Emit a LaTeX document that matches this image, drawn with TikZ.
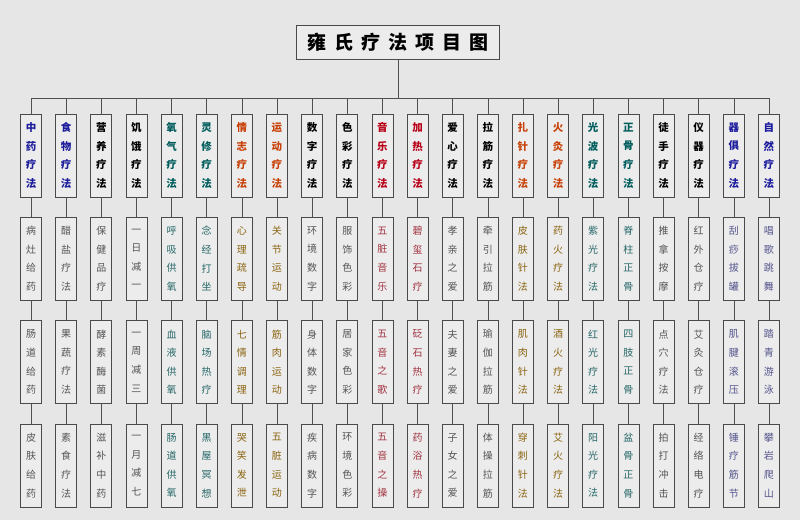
\documentclass[tikz,border=0pt]{standalone}
\usepackage{fontspec}
\usepackage{xcolor}
\usepackage{tikz}
\usetikzlibrary{positioning}

\newfontfamily\cjk{Noto Sans CJK SC}
\definecolor{bg}{HTML}{E6E6E6}
\definecolor{boxfill}{HTML}{ECECEC}
\definecolor{boxline}{HTML}{4A4A4A}
\definecolor{linec}{HTML}{505050}
\definecolor{navy}{HTML}{1C1C9C}
\definecolor{tealc}{HTML}{005C5C}
\definecolor{orng}{HTML}{C8420A}
\definecolor{redc}{HTML}{B80018}
\definecolor{itemgray}{HTML}{555555}
\definecolor{olivec}{HTML}{8A6410}
\newcommand{\vt}[4]{#1\\#2\\#3\\#4}

\begin{document}
\begin{tikzpicture}[node distance={103.3pt and 35.14pt}, on grid=true,
    box/.style = {draw=boxline, fill=boxfill, line width=0.7pt, minimum width=21pt, minimum height=83pt, inner sep=0pt, align=center},
    head/.style = {box, font=\cjk\bfseries\fontsize{10.5}{18.6}\selectfont},
    item/.style = {box, font=\cjk\fontsize{10}{18.6}\selectfont, text=itemgray},
    link/.style = {draw=linec, line width=0.6pt}]
      \fill[bg] (0,0) rectangle (800pt,520pt);

      \node[box, minimum width=203pt, minimum height=34pt, font=\cjk\bfseries\fontsize{19}{19}\selectfont] (title) at (398pt,477.7pt)
        {雍\hspace{8pt}氏\hspace{8pt}疗\hspace{8pt}法\hspace{8pt}项\hspace{8pt}目\hspace{8pt}图};
      \coordinate (bar) at (398pt,422pt);

      % therapies
      \node[head,text=navy] (t1) at (31pt,364.5pt) {\vt 中药疗法};
      \node[head,text=navy] (t2) [right=of t1] {\vt 食物疗法};
      \node[head] (t3) [right=of t2] {\vt 营养疗法};
      \node[head] (t4) [right=of t3] {\vt 饥饿疗法};
      \node[head,text=tealc] (t5) [right=of t4] {\vt 氧气疗法};
      \node[head,text=tealc] (t6) [right=of t5] {\vt 灵修疗法};
      \node[head,text=orng] (t7) [right=of t6] {\vt 情志疗法};
      \node[head,text=orng] (t8) [right=of t7] {\vt 运动疗法};
      \node[head] (t9) [right=of t8] {\vt 数字疗法};
      \node[head] (t10) [right=of t9] {\vt 色彩疗法};
      \node[head,text=redc] (t11) [right=of t10] {\vt 音乐疗法};
      \node[head,text=redc] (t12) [right=of t11] {\vt 加热疗法};
      \node[head] (t13) [right=of t12] {\vt 爱心疗法};
      \node[head] (t14) [right=of t13] {\vt 拉筋疗法};
      \node[head,text=orng] (t15) [right=of t14] {\vt 扎针疗法};
      \node[head,text=orng] (t16) [right=of t15] {\vt 火灸疗法};
      \node[head,text=tealc] (t17) [right=of t16] {\vt 光波疗法};
      \node[head,text=tealc] (t18) [right=of t17] {\vt 正骨疗法};
      \node[head] (t19) [right=of t18] {\vt 徒手疗法};
      \node[head] (t20) [right=of t19] {\vt 仪器疗法};
      \node[head,text=navy] (t21) [right=of t20] {\vt 器俱疗法};
      \node[head,text=navy] (t22) [right=of t21] {\vt 自然疗法};

      % first items
      \node[item] (a1) [below=of t1] {\vt 病灶给药};
      \node[item] (a2) [below=of t2] {\vt 醋盐疗法};
      \node[item] (a3) [below=of t3] {\vt 保健品疗};
      \node[item] (a4) [below=of t4] {\vt 一日减一};
      \node[item,text=tealc!70!gray] (a5) [below=of t5] {\vt 呼吸供氧};
      \node[item,text=tealc!70!gray] (a6) [below=of t6] {\vt 念经打坐};
      \node[item,text=olivec] (a7) [below=of t7] {\vt 心理疏导};
      \node[item,text=olivec] (a8) [below=of t8] {\vt 关节运动};
      \node[item] (a9) [below=of t9] {\vt 环境数字};
      \node[item] (a10) [below=of t10] {\vt 服饰色彩};
      \node[item,text=redc!60!gray] (a11) [below=of t11] {\vt 五脏音乐};
      \node[item,text=redc!60!gray] (a12) [below=of t12] {\vt 碧玺石疗};
      \node[item] (a13) [below=of t13] {\vt 孝亲之爱};
      \node[item] (a14) [below=of t14] {\vt 牵引拉筋};
      \node[item,text=olivec] (a15) [below=of t15] {\vt 皮肤针法};
      \node[item,text=olivec] (a16) [below=of t16] {\vt 药火疗法};
      \node[item,text=tealc!70!gray] (a17) [below=of t17] {\vt 紫光疗法};
      \node[item,text=tealc!70!gray] (a18) [below=of t18] {\vt 脊柱正骨};
      \node[item] (a19) [below=of t19] {\vt 推拿按摩};
      \node[item] (a20) [below=of t20] {\vt 红外仓疗};
      \node[item,text=navy!45!gray] (a21) [below=of t21] {\vt 刮痧拔罐};
      \node[item,text=navy!45!gray] (a22) [below=of t22] {\vt 唱歌跳舞};

      % second items
      \node[item] (b1) [below=of a1] {\vt 肠道给药};
      \node[item] (b2) [below=of a2] {\vt 果蔬疗法};
      \node[item] (b3) [below=of a3] {\vt 酵素酶菌};
      \node[item] (b4) [below=of a4] {\vt 一周减三};
      \node[item,text=tealc!70!gray] (b5) [below=of a5] {\vt 血液供氧};
      \node[item,text=tealc!70!gray] (b6) [below=of a6] {\vt 脑场热疗};
      \node[item,text=olivec] (b7) [below=of a7] {\vt 七情调理};
      \node[item,text=olivec] (b8) [below=of a8] {\vt 筋肉运动};
      \node[item] (b9) [below=of a9] {\vt 身体数字};
      \node[item] (b10) [below=of a10] {\vt 居家色彩};
      \node[item,text=redc!60!gray] (b11) [below=of a11] {\vt 五音之歌};
      \node[item,text=redc!60!gray] (b12) [below=of a12] {\vt 砭石热疗};
      \node[item] (b13) [below=of a13] {\vt 夫妻之爱};
      \node[item] (b14) [below=of a14] {\vt 瑜伽拉筋};
      \node[item,text=olivec] (b15) [below=of a15] {\vt 肌肉针法};
      \node[item,text=olivec] (b16) [below=of a16] {\vt 酒火疗法};
      \node[item,text=tealc!70!gray] (b17) [below=of a17] {\vt 红光疗法};
      \node[item,text=tealc!70!gray] (b18) [below=of a18] {\vt 四肢正骨};
      \node[item] (b19) [below=of a19] {\vt 点穴疗法};
      \node[item] (b20) [below=of a20] {\vt 艾灸仓疗};
      \node[item,text=navy!45!gray] (b21) [below=of a21] {\vt 肌腱滚压};
      \node[item,text=navy!45!gray] (b22) [below=of a22] {\vt 踏青游泳};

      % third items
      \node[item] (c1) [below=of b1] {\vt 皮肤给药};
      \node[item] (c2) [below=of b2] {\vt 素食疗法};
      \node[item] (c3) [below=of b3] {\vt 滋补中药};
      \node[item] (c4) [below=of b4] {\vt 一月减七};
      \node[item,text=tealc!70!gray] (c5) [below=of b5] {\vt 肠道供氧};
      \node[item,text=tealc!70!gray] (c6) [below=of b6] {\vt 黑屋冥想};
      \node[item,text=olivec] (c7) [below=of b7] {\vt 哭笑发泄};
      \node[item,text=olivec] (c8) [below=of b8] {\vt 五脏运动};
      \node[item] (c9) [below=of b9] {\vt 疾病数字};
      \node[item] (c10) [below=of b10] {\vt 环境色彩};
      \node[item,text=redc!60!gray] (c11) [below=of b11] {\vt 五音之操};
      \node[item,text=redc!60!gray] (c12) [below=of b12] {\vt 药浴热疗};
      \node[item] (c13) [below=of b13] {\vt 子女之爱};
      \node[item] (c14) [below=of b14] {\vt 体操拉筋};
      \node[item,text=olivec] (c15) [below=of b15] {\vt 穿刺针法};
      \node[item,text=olivec] (c16) [below=of b16] {\vt 艾火疗法};
      \node[item,text=tealc!70!gray] (c17) [below=of b17] {\vt 阳光疗法};
      \node[item,text=tealc!70!gray] (c18) [below=of b18] {\vt 盆骨正骨};
      \node[item] (c19) [below=of b19] {\vt 拍打冲击};
      \node[item] (c20) [below=of b20] {\vt 经络电疗};
      \node[item,text=navy!45!gray] (c21) [below=of b21] {\vt 锤疗筋节};
      \node[item,text=navy!45!gray] (c22) [below=of b22] {\vt 攀岩爬山};

      \draw[link] (title) to (bar);

      \draw[link] (bar) -| (t1);
      \draw[link] (bar) -| (t2);
      \draw[link] (bar) -| (t3);
      \draw[link] (bar) -| (t4);
      \draw[link] (bar) -| (t5);
      \draw[link] (bar) -| (t6);
      \draw[link] (bar) -| (t7);
      \draw[link] (bar) -| (t8);
      \draw[link] (bar) -| (t9);
      \draw[link] (bar) -| (t10);
      \draw[link] (bar) -| (t11);
      \draw[link] (bar) -| (t12);
      \draw[link] (bar) -| (t13);
      \draw[link] (bar) -| (t14);
      \draw[link] (bar) -| (t15);
      \draw[link] (bar) -| (t16);
      \draw[link] (bar) -| (t17);
      \draw[link] (bar) -| (t18);
      \draw[link] (bar) -| (t19);
      \draw[link] (bar) -| (t20);
      \draw[link] (bar) -| (t21);
      \draw[link] (bar) -| (t22);

      \draw[link] (t1) to (a1);
      \draw[link] (t2) to (a2);
      \draw[link] (t3) to (a3);
      \draw[link] (t4) to (a4);
      \draw[link] (t5) to (a5);
      \draw[link] (t6) to (a6);
      \draw[link] (t7) to (a7);
      \draw[link] (t8) to (a8);
      \draw[link] (t9) to (a9);
      \draw[link] (t10) to (a10);
      \draw[link] (t11) to (a11);
      \draw[link] (t12) to (a12);
      \draw[link] (t13) to (a13);
      \draw[link] (t14) to (a14);
      \draw[link] (t15) to (a15);
      \draw[link] (t16) to (a16);
      \draw[link] (t17) to (a17);
      \draw[link] (t18) to (a18);
      \draw[link] (t19) to (a19);
      \draw[link] (t20) to (a20);
      \draw[link] (t21) to (a21);
      \draw[link] (t22) to (a22);

      \draw[link] (a1) to (b1);
      \draw[link] (a2) to (b2);
      \draw[link] (a3) to (b3);
      \draw[link] (a4) to (b4);
      \draw[link] (a5) to (b5);
      \draw[link] (a6) to (b6);
      \draw[link] (a7) to (b7);
      \draw[link] (a8) to (b8);
      \draw[link] (a9) to (b9);
      \draw[link] (a10) to (b10);
      \draw[link] (a11) to (b11);
      \draw[link] (a12) to (b12);
      \draw[link] (a13) to (b13);
      \draw[link] (a14) to (b14);
      \draw[link] (a15) to (b15);
      \draw[link] (a16) to (b16);
      \draw[link] (a17) to (b17);
      \draw[link] (a18) to (b18);
      \draw[link] (a19) to (b19);
      \draw[link] (a20) to (b20);
      \draw[link] (a21) to (b21);
      \draw[link] (a22) to (b22);

      \draw[link] (b1) to (c1);
      \draw[link] (b2) to (c2);
      \draw[link] (b3) to (c3);
      \draw[link] (b4) to (c4);
      \draw[link] (b5) to (c5);
      \draw[link] (b6) to (c6);
      \draw[link] (b7) to (c7);
      \draw[link] (b8) to (c8);
      \draw[link] (b9) to (c9);
      \draw[link] (b10) to (c10);
      \draw[link] (b11) to (c11);
      \draw[link] (b12) to (c12);
      \draw[link] (b13) to (c13);
      \draw[link] (b14) to (c14);
      \draw[link] (b15) to (c15);
      \draw[link] (b16) to (c16);
      \draw[link] (b17) to (c17);
      \draw[link] (b18) to (c18);
      \draw[link] (b19) to (c19);
      \draw[link] (b20) to (c20);
      \draw[link] (b21) to (c21);
      \draw[link] (b22) to (c22);
    \end{tikzpicture}
\end{document}
